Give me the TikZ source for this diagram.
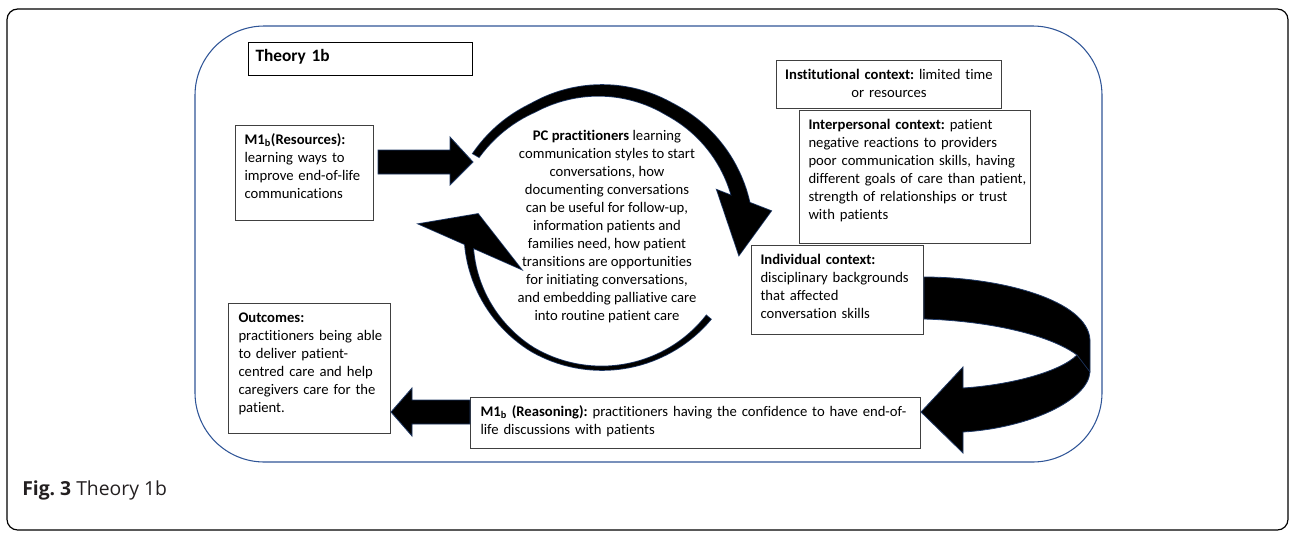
\documentclass[tikz,border=0pt]{standalone}
\usepackage{fontspec}
\setmainfont{Carlito}[Ligatures=CommonOff]
\newfontfamily\capfont{Open Sans}
\frenchspacing
\definecolor{frameblue}{RGB}{47,85,151}
\definecolor{arrowedge}{RGB}{31,56,100}
\definecolor{capgrey}{RGB}{35,31,32}

% paths of the two circular arrows (pixel units)
\def\topband{plot[domain=150:8, samples=60] ({602+topR(\x)*cos(\x)}, {228-topR(\x)*sin(\x)})
  -- plot[domain=8:150, samples=60] ({602+(topR(\x)-topW(\x))*cos(\x)}, {228-(topR(\x)-topW(\x))*sin(\x)}) -- cycle}
\def\tophead{(717,190) -- (771,211) -- (739,255) -- cycle}
\def\lowband{plot[domain=-40:-174, samples=60] ({602+lowR(\x)*cos(\x)}, {228-lowR(\x)*sin(\x)})
  -- plot[domain=-174:-40, samples=60] ({602+(lowR(\x)-lowW(\x))*cos(\x)}, {228-(lowR(\x)-lowW(\x))*sin(\x)}) -- cycle}
\def\lowhead{(419,224) -- (478,214) -- (521,269) -- cycle}

\begin{document}
\begin{tikzpicture}[
      x=0.75pt, y=-0.75pt,
      every node/.style={font=\fontsize{11}{13.5}\selectfont},
      declare function={
        topR(\t)=143+6*max(0,(\t-120)/30)+7*max(0,(60-\t)/52);
        topW(\t)=7+9*(150-\t)/142;
        lowR(\t)=142-4*max(0,(-120-\t)/54);
        lowW(\t)=3.5+4.5*((\t+95)/78)*((\t+95)/78);
      },
      ctxbox/.style={draw=black!75, fill=white, line width=0.75pt, anchor=north west, align=left,
                     inner xsep=0pt, inner ysep=5pt, text height=9pt},
      lpad/.style={execute at begin node={\leftskip=#1\relax}},
      blockarrow/.style={fill=black, draw=arrowedge, line width=0.6pt},
      arrowline/.style={draw=arrowedge, line width=1.2pt},
  ]
    \useasboundingbox (0,0) rectangle (1290,533);
    % frames
    \draw[black, line width=0.9pt, rounded corners=8pt] (7,9) rectangle (1288,530);
    \draw[frameblue, line width=0.8pt, rounded corners=52pt] (195,26) rectangle (1102,462);

    % boxes
    \node[ctxbox, draw=black, lpad=5.25pt, text width=168pt, text height=9.25pt, text depth=5.5pt,
          font=\fontsize{13}{15}\selectfont\bfseries] (title) at (248,42) {Theory 1b};
    \node[ctxbox, lpad=6.75pt, text width=103.5pt, text depth=52.25pt] (res) at (235,125)
      {\textbf{M1\textsubscript{b}(Resources):}\\learning ways to\\improve end-of-life\\communications};
    \node[ctxbox, align=center, text width=168.75pt, text depth=17pt] (inst) at (776,60)
      {\textbf{Institutional context:} limited time\\or resources};
    \node[ctxbox, lpad=6.75pt, text width=173.25pt, text depth=80.75pt] (interp) at (799,110)
      {\textbf{Interpersonal context:} patient\\negative reactions to providers\\poor communication skills, having\\different goals of care than patient,\\strength of relationships or trust\\with patients};
    \node[ctxbox, lpad=6.75pt, text width=129pt, text depth=47.75pt] (indiv) at (751,245)
      {\textbf{Individual context:}\\disciplinary backgrounds\\that affected\\conversation skills};
    \node[ctxbox, lpad=7.5pt, text width=121.5pt, text depth=78.5pt] (outc) at (228,303)
      {\textbf{Outcomes:}\\practitioners being able\\to deliver patient-\\centred care and help\\caregivers care for the\\patient.};
    \node[ctxbox, lpad=7.5pt, text width=337.5pt, text depth=19.25pt] (reason) at (470,397)
      {\textbf{M1\textsubscript{b} (Reasoning):} practitioners having the confidence to have end-of-\\life discussions with patients};
    \node[align=center, inner sep=0pt] (pc) at (607,227)
      {\textbf{PC practitioners} learning\\communication styles to start\\conversations, how\\documenting conversations\\can be useful for follow-up,\\information patients and\\families need, how patient\\transitions are opportunities\\for initiating conversations,\\and embedding palliative care\\into routine patient care};

    % circular arrows round the centre text
    \draw[arrowline] \topband \tophead \lowband \lowhead;
    \fill \topband;
    \fill \tophead;
    \fill \lowband;
    \fill \lowhead;

    % block arrows
    \draw[blockarrow] (378,150) -- (450,150) -- (450,137) -- (473,162) -- (450,185) -- (450,174) -- (378,174) -- cycle;
    \draw[blockarrow] (reason.west |- 0,400) -- (412,400) -- (412,388) -- (outc.east |- 0,412)
      -- (412,436) -- (412,424) -- (reason.west |- 0,424) -- cycle;
    \draw[blockarrow] (indiv.east |- 0,277) .. controls (1000,277) and (1088,300) .. (1090,340) -- (1090,372)
      .. controls (1088,400) and (1030,428) .. (963,432) -- (963,453) -- (reason.east |- 0,412)
      -- (963,367) -- (963,388) .. controls (1010,385) and (1060,372) .. (1077,355)
      .. controls (1050,335) and (990,321) .. (indiv.east |- 0,319) -- cycle;
    \draw[arrowedge, line width=0.5pt] (1077,355) -- (1090,372);

    % caption
    \node[anchor=base west, inner sep=0pt, text=capgrey, font=\capfont\fontsize{14.5}{16}\selectfont] (cap) at (22,495)
      {\textbf{Fig. 3} Theory 1b};
\end{tikzpicture}
\end{document}
